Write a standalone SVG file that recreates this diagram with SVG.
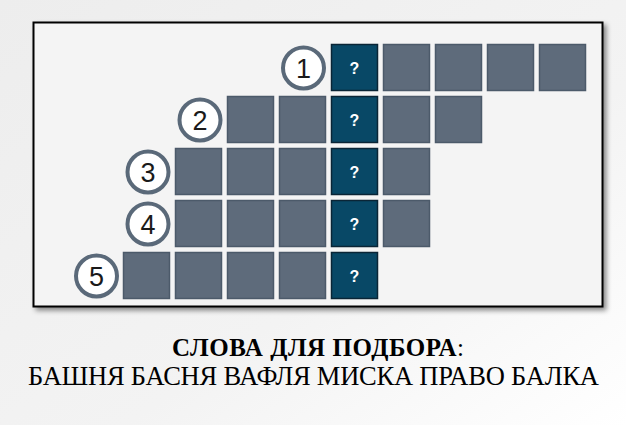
<svg xmlns="http://www.w3.org/2000/svg" width="626" height="425" viewBox="0 0 626 425">
  <defs>
    <linearGradient id="bg" x1="0" y1="0" x2="1" y2="1">
      <stop offset="0" stop-color="#ededed"/>
      <stop offset="0.6" stop-color="#f3f3f3"/>
      <stop offset="1" stop-color="#ffffff"/>
    </linearGradient>
    <filter id="shadow" x="-5%" y="-5%" width="115%" height="115%">
      <feDropShadow dx="3" dy="3" stdDeviation="2.5" flood-color="#000" flood-opacity="0.45"/>
    </filter>
    <style>
      .cell { fill: #5e6b7b; stroke: #4c5a6a; stroke-width: 1.5; }
      .key { fill: #084866; stroke: #0a2536; stroke-width: 1.5; }
      .q { font-family: "Liberation Sans", Arial, sans-serif; font-weight: bold; font-size: 16px; fill: #ffffff; text-anchor: middle; }
      .ring { fill: #ffffff; stroke: #5a6979; stroke-width: 4; }
      .num { font-family: "Liberation Sans", Arial, sans-serif; font-size: 27px; fill: #1a1a1a; text-anchor: middle; }
      .title { font-family: "Liberation Serif", "Times New Roman", serif; fill: #000; }
    </style>
  </defs>
  <rect x="0" y="0" width="626" height="425" fill="url(#bg)"/>
  <rect id="frame" x="33.5" y="22.5" width="569" height="284" fill="#f4f4f4" stroke="#000" stroke-width="2" filter="url(#shadow)"/>

  <g id="connectors"></g>

  <g id="row1">
    <circle class="ring" cx="303.5" cy="68" r="20.5"/>
    <text class="num" x="303.5" y="78">1</text>
    <rect class="key" x="331.5" y="44.5" width="46" height="46"/>
    <text class="q" x="354.5" y="73.5">?</text>
    <rect class="cell" x="383.5" y="44.5" width="46" height="46"/>
    <rect class="cell" x="435.5" y="44.5" width="46" height="46"/>
    <rect class="cell" x="487.5" y="44.5" width="46" height="46"/>
    <rect class="cell" x="539.5" y="44.5" width="46" height="46"/>
  </g>
  <g id="row2">
    <circle class="ring" cx="200" cy="120" r="20.5"/>
    <text class="num" x="200" y="130">2</text>
    <rect class="cell" x="227.5" y="96.5" width="46" height="46"/>
    <rect class="cell" x="279.5" y="96.5" width="46" height="46"/>
    <rect class="key" x="331.5" y="96.5" width="46" height="46"/>
    <text class="q" x="354.5" y="125.5">?</text>
    <rect class="cell" x="383.5" y="96.5" width="46" height="46"/>
    <rect class="cell" x="435.5" y="96.5" width="46" height="46"/>
  </g>
  <g id="row3">
    <circle class="ring" cx="148" cy="172" r="20.5"/>
    <text class="num" x="148" y="182">3</text>
    <rect class="cell" x="175.5" y="148.5" width="46" height="46"/>
    <rect class="cell" x="227.5" y="148.5" width="46" height="46"/>
    <rect class="cell" x="279.5" y="148.5" width="46" height="46"/>
    <rect class="key" x="331.5" y="148.5" width="46" height="46"/>
    <text class="q" x="354.5" y="177.5">?</text>
    <rect class="cell" x="383.5" y="148.5" width="46" height="46"/>
  </g>
  <g id="row4">
    <circle class="ring" cx="148" cy="224" r="20.5"/>
    <text class="num" x="148" y="234">4</text>
    <rect class="cell" x="175.5" y="200.5" width="46" height="46"/>
    <rect class="cell" x="227.5" y="200.5" width="46" height="46"/>
    <rect class="cell" x="279.5" y="200.5" width="46" height="46"/>
    <rect class="key" x="331.5" y="200.5" width="46" height="46"/>
    <text class="q" x="354.5" y="229.5">?</text>
    <rect class="cell" x="383.5" y="200.5" width="46" height="46"/>
  </g>
  <g id="row5">
    <circle class="ring" cx="96.5" cy="276" r="20.5"/>
    <text class="num" x="96.5" y="286">5</text>
    <rect class="cell" x="123.5" y="252.5" width="46" height="46"/>
    <rect class="cell" x="175.5" y="252.5" width="46" height="46"/>
    <rect class="cell" x="227.5" y="252.5" width="46" height="46"/>
    <rect class="cell" x="279.5" y="252.5" width="46" height="46"/>
    <rect class="key" x="331.5" y="252.5" width="46" height="46"/>
    <text class="q" x="354.5" y="281.5">?</text>
  </g>

  <g id="caption">
    <text class="title" font-size="25" x="172" y="356" textLength="292" lengthAdjust="spacing"><tspan font-weight="bold">СЛОВА  ДЛЯ ПОДБОРА</tspan>:</text>
    <text class="title" font-size="26.5" x="28" y="385" textLength="571" lengthAdjust="spacing">БАШНЯ БАСНЯ ВАФЛЯ МИСКА ПРАВО БАЛКА</text>
  </g>
</svg>
